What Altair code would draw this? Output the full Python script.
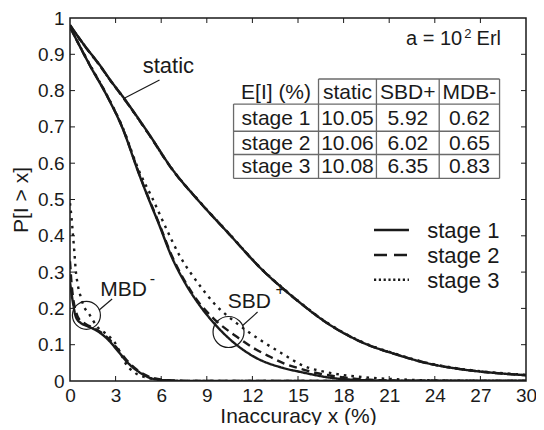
import altair as alt
import pandas as pd

FONT = "Liberation Sans"
INK = "#1a1a1a"

# ---------------- data ----------------
x_ticks = [0, 3, 6, 9, 12, 15, 18, 21, 24, 27, 30]
y_ticks = [0, 0.1, 0.2, 0.3, 0.4, 0.5, 0.6, 0.7, 0.8, 0.9, 1.0]

static_x = [0, 1.0, 2.0, 2.6, 3.5, 5.2, 6.7, 8.45, 10.4, 12.8, 14.0, 15.0, 16.9, 19.3, 21.4, 23.5, 25.8, 28, 30]
static1_y = [0.98, 0.922, 0.868, 0.832, 0.782, 0.68, 0.585, 0.497, 0.408, 0.30, 0.255, 0.22, 0.16, 0.105, 0.074, 0.049, 0.032, 0.022, 0.016]
static2_y = [0.98, 0.921, 0.867, 0.831, 0.781, 0.679, 0.584, 0.497, 0.408, 0.30, 0.255, 0.22, 0.16, 0.105, 0.074, 0.049, 0.032, 0.022, 0.016]
static3_y = [0.98, 0.921, 0.867, 0.831, 0.781, 0.679, 0.585, 0.498, 0.409, 0.301, 0.256, 0.221, 0.161, 0.106, 0.075, 0.050, 0.033, 0.023, 0.017]

sbd1_x = [0, 1.3, 2.4, 3.45, 4.55, 5.0, 5.85, 6.7, 7.6, 8.45, 9.5, 10.6, 12.1, 14.1, 15.15, 17.3, 19.5, 22, 30]
sbd1_y = [0.975, 0.87, 0.788, 0.697, 0.569, 0.52, 0.432, 0.341, 0.268, 0.213, 0.158, 0.112, 0.067, 0.035, 0.025, 0.008, 0.002, 0.0, 0.0]
sbd2_x = [0, 1.3, 2.4, 3.45, 4.55, 5.0, 5.85, 6.7, 7.6, 8.45, 9.5, 11.0, 12.1, 13.2, 14.1, 15.15, 16.2, 17.3, 19.5, 22, 30]
sbd2_y = [0.975, 0.87, 0.789, 0.698, 0.571, 0.522, 0.435, 0.345, 0.272, 0.218, 0.17, 0.121, 0.09, 0.066, 0.048, 0.034, 0.022, 0.014, 0.004, 0.001, 0.0]
sbd3_x = [0, 1.3, 2.4, 3.45, 4.55, 5.4, 6.3, 7.15, 8.45, 9.5, 11.0, 12.55, 14.1, 15.15, 17.3, 19.5, 22, 25, 30]
sbd3_y = [0.975, 0.872, 0.79, 0.70, 0.578, 0.505, 0.423, 0.35, 0.268, 0.213, 0.158, 0.112, 0.072, 0.046, 0.021, 0.010, 0.004, 0.001, 0.0]

mbd1_x = [0, 0.17, 0.39, 0.7, 1.04, 1.9, 2.55, 3.2, 3.85, 4.5, 5.37, 6.3, 8, 30]
mbd1_y = [0.272, 0.222, 0.176, 0.16, 0.153, 0.135, 0.112, 0.080, 0.048, 0.026, 0.007, 0.002, 0.0, 0.0]
mbd2_x = [0, 0.1, 0.2, 0.4, 0.6, 1.0, 1.9, 2.55, 3.2, 3.85, 4.5, 5.4, 6.5, 8, 30]
mbd2_y = [0.33, 0.27, 0.23, 0.19, 0.17, 0.158, 0.138, 0.116, 0.085, 0.052, 0.028, 0.009, 0.002, 0.0, 0.0]
mbd3_x = [0, 0.1, 0.2, 0.28, 0.39, 0.5, 0.71, 0.93, 1.25, 1.8, 2.34, 2.99, 3.31, 3.64, 4.29, 5.2, 6.3, 8, 30]
mbd3_y = [0.49, 0.45, 0.40, 0.359, 0.30, 0.268, 0.231, 0.204, 0.185, 0.149, 0.131, 0.103, 0.078, 0.050, 0.022, 0.008, 0.002, 0.0, 0.0]

stages = ["stage 1", "stage 2", "stage 3"]
table_header = ["E[I] (%)", "static", "SBD+", "MDB-"]
table_static = ["10.05", "10.06", "10.08"]
table_sbd = ["5.92", "6.02", "6.35"]
table_mdb = ["0.62", "0.65", "0.83"]

# ---------------- layout constants (data space) ----------------
W, H = 456, 363
TX = 5 / W * 30      # inner tick length in x units
TY = 5 / H * 1       # inner tick length in y units
col_edges = [10.76, 16.35, 20.16, 24.29, 28.26]
row_edges = [0.832, 0.763, 0.688, 0.624, 0.558]

# ---------------- frames ----------------
curves = []
for grp, st, xs, ys in [
    ("static", 1, static_x, static1_y), ("static", 2, static_x, static2_y), ("static", 3, static_x, static3_y),
    ("sbd", 1, sbd1_x, sbd1_y), ("sbd", 2, sbd2_x, sbd2_y), ("sbd", 3, sbd3_x, sbd3_y),
    ("mbd", 1, mbd1_x, mbd1_y), ("mbd", 2, mbd2_x, mbd2_y), ("mbd", 3, mbd3_x, mbd3_y),
]:
    for a, b in zip(xs, ys):
        curves.append({"x": a, "y": b, "group": grp, "stage": st})
curves = pd.DataFrame(curves)

xscale = alt.Scale(domain=[0, 30], nice=False, zero=False)
yscale = alt.Scale(domain=[0, 1], nice=False, zero=False)

axis_common = dict(ticks=False, grid=False, domain=False, format="~g", labelFlush=False,
                   labelFont=FONT, labelFontSize=19, labelColor=INK,
                   titleFont=FONT, titleFontSize=21, titleFontWeight="normal",
                   titleColor=INK)


def X(field="x"):
    return alt.X(f"{field}:Q", scale=xscale, title="Inaccuracy x (%)",
                 axis=alt.Axis(values=x_ticks, labelPadding=5, titlePadding=0, **axis_common))


def Y(field="y"):
    return alt.Y(f"{field}:Q", scale=yscale, title="P[I > x]",
                 axis=alt.Axis(values=y_ticks, labelPadding=6, titlePadding=6, **axis_common))


def line_layer(st, dash):
    return alt.Chart(curves[curves.stage == st]).mark_line(
        color=INK, strokeWidth=2.4, strokeDash=dash, interpolate="monotone", clip=True
    ).encode(x=X(), y=Y(), detail="group:N")


lines = [line_layer(3, [2.6, 5]), line_layer(2, [8, 5]), line_layer(1, [1, 0])]

# inner ticks
tick_rows = []
for t in x_ticks[1:-1]:
    tick_rows.append({"x": t, "x2": t, "y": 0, "y2": TY})
    tick_rows.append({"x": t, "x2": t, "y": 1, "y2": 1 - TY})
for t in y_ticks[1:-1]:
    tick_rows.append({"x": 0, "x2": TX, "y": t, "y2": t})
    tick_rows.append({"x": 30, "x2": 30 - TX, "y": t, "y2": t})
ticks = alt.Chart(pd.DataFrame(tick_rows)).mark_rule(color=INK, strokeWidth=1).encode(
    x=X(), x2="x2:Q", y=Y(), y2="y2:Q")

# table grid
grid_rows = [{"x": col_edges[1], "x2": col_edges[-1], "y": row_edges[0], "y2": row_edges[0]}]
for r in row_edges[1:]:
    grid_rows.append({"x": col_edges[0], "x2": col_edges[-1], "y": r, "y2": r})
grid_rows.append({"x": col_edges[0], "x2": col_edges[0], "y": row_edges[1], "y2": row_edges[-1]})
for c in col_edges[1:]:
    grid_rows.append({"x": c, "x2": c, "y": row_edges[0], "y2": row_edges[-1]})
grid = alt.Chart(pd.DataFrame(grid_rows)).mark_rule(color="#6a6a6a", strokeWidth=1.3).encode(
    x=X(), x2="x2:Q", y=Y(), y2="y2:Q")

col_mid = [(col_edges[i] + col_edges[i + 1]) / 2 for i in range(4)]
row_mid = [(row_edges[i] + row_edges[i + 1]) / 2 for i in range(4)]
cells = []
for j, h in enumerate(table_header):
    cells.append({"x": col_mid[j], "y": row_mid[0], "t": h})
for i in range(3):
    for j, v in enumerate([stages[i], table_static[i], table_sbd[i], table_mdb[i]]):
        cells.append({"x": col_mid[j], "y": row_mid[i + 1], "t": v})
cell_text = alt.Chart(pd.DataFrame(cells)).mark_text(
    font=FONT, fontSize=21, color=INK, align="center", baseline="middle", dy=1
).encode(x=X(), y=Y(), text="t:N")

# custom legend
leg_y = [0.416, 0.347, 0.279]
leg_dash = [[1, 0], [13, 7], [2.2, 2.6]]
leg_layers = []
for s, yy, d in zip(stages, leg_y, leg_dash):
    leg_layers.append(alt.Chart(pd.DataFrame([{"x": 20.0, "x2": 22.3, "y": yy}])).mark_rule(
        color=INK, strokeWidth=2.6, strokeDash=d).encode(x=X(), x2="x2:Q", y=Y()))
leg_text = alt.Chart(pd.DataFrame([{"x": 23.5, "y": yy, "t": s} for s, yy in zip(stages, leg_y)])).mark_text(
    font=FONT, fontSize=22, color=INK, align="left", baseline="middle", dy=1
).encode(x=X(), y=Y(), text="t:N")

# annotations
ann = pd.DataFrame([
    {"x": 6.47, "y": 0.868, "t": "static", "fs": 22},
    {"x": 3.53, "y": 0.252, "t": "MBD", "fs": 21},
    {"x": 11.8, "y": 0.217, "t": "SBD", "fs": 21},
])
ann_text = alt.Chart(ann).mark_text(font=FONT, color=INK, align="center", baseline="middle").encode(
    x=X(), y=Y(), text="t:N", size=alt.Size("fs:Q", scale=None, legend=None))
sup = pd.DataFrame([
    {"x": 5.42, "y": 0.281, "t": "-"},
    {"x": 13.82, "y": 0.252, "t": "+"},
])
sup_text = alt.Chart(sup).mark_text(font=FONT, fontSize=16, color=INK, align="center", baseline="middle").encode(
    x=X(), y=Y(), text="t:N")

erl_main = alt.Chart(pd.DataFrame([{"x": 25.8, "y": 0.942, "t": "a = 10"}])).mark_text(
    font=FONT, fontSize=20, color=INK, align="right", baseline="middle").encode(x=X(), y=Y(), text="t:N")
erl_sup = alt.Chart(pd.DataFrame([{"x": 26.17, "y": 0.957, "t": "2"}])).mark_text(
    font=FONT, fontSize=13, color=INK, align="center", baseline="middle").encode(x=X(), y=Y(), text="t:N")
erl_unit = alt.Chart(pd.DataFrame([{"x": 26.75, "y": 0.942, "t": "Erl"}])).mark_text(
    font=FONT, fontSize=20, color=INK, align="left", baseline="middle").encode(x=X(), y=Y(), text="t:N")

leaders = alt.Chart(pd.DataFrame([
    {"x": 5.89, "y": 0.829, "x2": 3.57, "y2": 0.779},
    {"x": 1.9, "y": 0.195, "x2": 2.77, "y2": 0.226},
    {"x": 11.36, "y": 0.153, "x2": 12.34, "y2": 0.19},
])).mark_rule(color=INK, strokeWidth=1.2).encode(x=X(), y=Y(), x2="x2:Q", y2="y2:Q")

circles = alt.Chart(pd.DataFrame([
    {"x": 1.08, "y": 0.181, "s": 28 ** 2},
    {"x": 10.43, "y": 0.135, "s": 31 ** 2},
])).mark_point(shape="circle", filled=False, color=INK, strokeWidth=1.2, opacity=1).encode(
    x=X(), y=Y(), size=alt.Size("s:Q", scale=None, legend=None))

chart = alt.layer(
    grid, cell_text, *lines, ticks, *leg_layers, leg_text, ann_text, sup_text,
    erl_main, erl_sup, erl_unit, leaders, circles
).properties(
    width=W, height=H,
    autosize=alt.AutoSizeParams(type="none"),
    padding={"left": 62, "top": 10, "right": 10, "bottom": 44},
    background="white",
).configure_view(stroke=INK, strokeWidth=1.5)

chart.save("out.html", embed_options={"renderer": "svg", "actions": False})
